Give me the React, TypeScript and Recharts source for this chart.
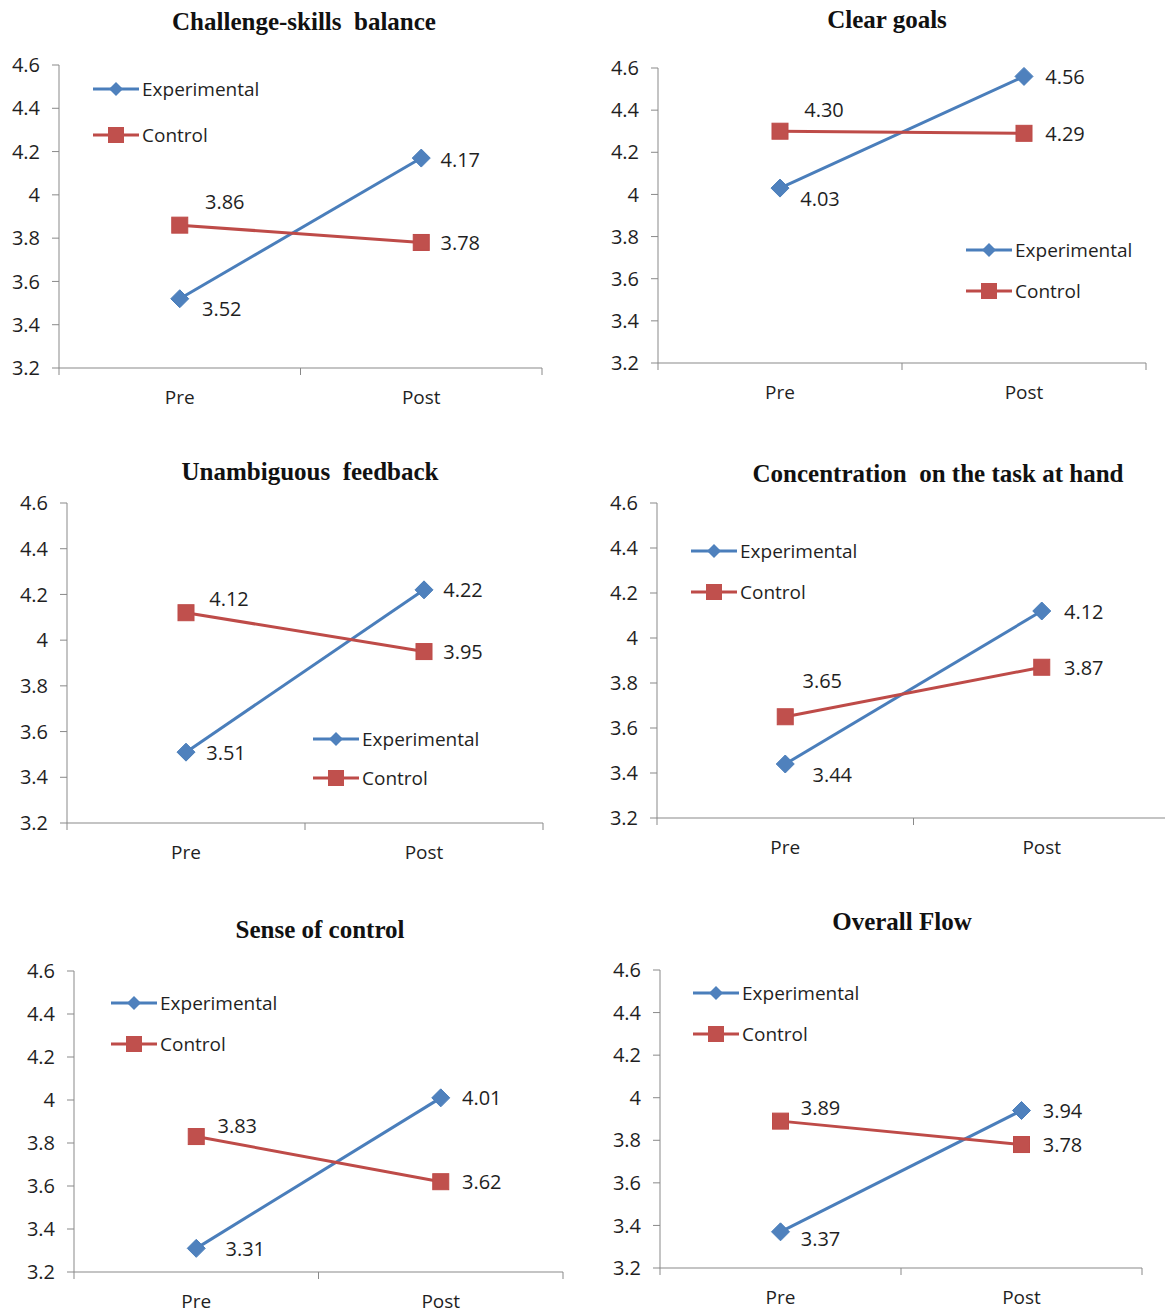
import React from "react";
import { LineChart, Line, XAxis, YAxis, Legend, LabelList } from "recharts";

// data
const CATEGORIES = ["Pre", "Post"];
const Y_TICKS = [3.2, 3.4, 3.6, 3.8, 4.0, 4.2, 4.4, 4.6];
const TITLES = [
  "Challenge-skills  balance",
  "Clear goals",
  "Unambiguous  feedback",
  "Concentration  on the task at hand",
  "Sense of control",
  "Overall Flow",
];
const EXPERIMENTAL = [
  [3.52, 4.17],
  [4.03, 4.56],
  [3.51, 4.22],
  [3.44, 4.12],
  [3.31, 4.01],
  [3.37, 3.94],
];
const CONTROL = [
  [3.86, 3.78],
  [4.3, 4.29],
  [4.12, 3.95],
  [3.65, 3.87],
  [3.83, 3.62],
  [3.89, 3.78],
];

const BLUE = "#4A7EBB";
const BLUE_FILL = "#4F81BD";
const RED = "#BE4B48";
const RED_FILL = "#C0504D";
const AXIS = "#898989";
const TEXT = "#1f1f1f";
const SANS = "'Open Sans', 'Noto Sans', sans-serif";

type Layout = {
  axisX: number;
  top: number;
  bottom: number;
  right: number;
  title: [number, number];
  legend: [number, number, number];
  expOff: [number, number][];
  ctrlOff: [number, number][];
};

// page placement of each panel (axis origin, plot extent, title, legend, label offsets)
const LAYOUT: Layout[] = [
  { axisX: 59, top: 65, bottom: 368, right: 542, title: [304, 22], legend: [93, 89, 135],
    expOff: [[42, 10], [39, 1]], ctrlOff: [[45, -24], [39, 0]] },
  { axisX: 658, top: 68, bottom: 363, right: 1146, title: [887, 20], legend: [966, 250, 291],
    expOff: [[40, 10], [41, 0]], ctrlOff: [[44, -22], [41, 0]] },
  { axisX: 67, top: 503, bottom: 823, right: 543, title: [310, 472], legend: [313, 739, 778],
    expOff: [[40, 0], [39, 0]], ctrlOff: [[43, -14], [39, 0]] },
  { axisX: 657, top: 503, bottom: 818, right: 1170, title: [938, 474], legend: [691, 551, 592],
    expOff: [[47, 10], [42, 0]], ctrlOff: [[37, -36], [42, 0]] },
  { axisX: 74, top: 971, bottom: 1272, right: 563, title: [320, 930], legend: [111, 1003, 1044],
    expOff: [[49, 0], [41, 0]], ctrlOff: [[41, -11], [41, 0]] },
  { axisX: 660, top: 970, bottom: 1268, right: 1142, title: [902, 922], legend: [693, 993, 1034],
    expOff: [[40, 7], [41, 0]], ctrlOff: [[40, -14], [41, 0]] },
];

const PAD_TOP = 20;

const Diamond = (props: any) => {
  const { cx, cy } = props;
  if (cx == null || cy == null) return null;
  const r = 9;
  return (
    <path
      d={`M${cx},${cy - r}L${cx + r},${cy}L${cx},${cy + r}L${cx - r},${cy}Z`}
      fill={BLUE_FILL}
      stroke={BLUE}
      strokeWidth={1}
    />
  );
};

const Square = (props: any) => {
  const { cx, cy } = props;
  if (cx == null || cy == null) return null;
  return <rect x={cx - 8} y={cy - 8} width={16} height={16} fill={RED_FILL} stroke={RED} strokeWidth={1} />;
};

const makeLabel = (offsets: [number, number][]) => (props: any) => {
  const { x, y, value, index } = props;
  const [dx, dy] = offsets[index] || [40, 0];
  return (
    <text
      x={x + dx}
      y={y + dy}
      textAnchor="middle"
      dominantBaseline="central"
      fontFamily={SANS}
      fontSize={20}
      fill={TEXT}
    >
      {Number(value).toFixed(2)}
    </text>
  );
};

const XTick = (props: any) => {
  const { x, y, payload } = props;
  const v = payload.value;
  if (v % 2 === 0) {
    return <line x1={x} x2={x} y1={y - 7} y2={y} stroke={AXIS} strokeWidth={1} />;
  }
  return (
    <text x={x} y={y + 22} textAnchor="middle" dominantBaseline="central" fontFamily={SANS} fontSize={19} fill={TEXT}>
      {CATEGORIES[(v - 1) / 2]}
    </text>
  );
};

const LegendRow = ({ kind, label }: { kind: "exp" | "ctrl"; label: string }) => (
  <div style={{ display: "flex", alignItems: "center", height: 24 }}>
    <svg width={46} height={24} style={{ display: "block" }}>
      <line x1={0} x2={46} y1={12} y2={12} stroke={kind === "exp" ? BLUE : RED} strokeWidth={3} />
      {kind === "exp" ? (
        <path d="M23,5L30,12L23,19L16,12Z" fill={BLUE_FILL} />
      ) : (
        <rect x={15} y={4} width={16} height={16} fill={RED_FILL} />
      )}
    </svg>
    <span style={{ fontFamily: SANS, fontSize: 19, color: TEXT, marginLeft: 3, lineHeight: "24px" }}>{label}</span>
  </div>
);

function Panel({ i }: { i: number }) {
  const L = LAYOUT[i];
  const chartLeft = L.axisX - 60;
  const chartTop = L.top - PAD_TOP;
  const width = 60 + (L.right - L.axisX) + 10;
  const height = PAD_TOP + (L.bottom - L.top) + 50;
  const data = CATEGORIES.map((name, k) => ({
    x: 2 * k + 1,
    name,
    exp: EXPERIMENTAL[i][k],
    ctrl: CONTROL[i][k],
  }));
  const [lx, ly1, ly2] = L.legend;

  return (
    <>
      <div
        style={{
          position: "absolute",
          left: L.title[0] - 300,
          top: L.title[1] - 16,
          width: 600,
          textAlign: "center",
          fontFamily: "'Liberation Serif', 'Times New Roman', serif",
          fontWeight: "bold",
          fontSize: 25,
          lineHeight: "32px",
          whiteSpace: "pre",
          color: "#111",
        }}
      >
        {TITLES[i]}
      </div>
      <div style={{ position: "absolute", left: chartLeft, top: chartTop }}>
        <LineChart width={width} height={height} data={data} margin={{ top: PAD_TOP, right: 10, left: 0, bottom: 0 }}>
          <XAxis
            dataKey="x"
            type="number"
            domain={[0, 4]}
            ticks={[0, 1, 2, 3, 4]}
            interval={0}
            height={50}
            tickSize={7}
            tickMargin={0}
            tickLine={false}
            axisLine={{ stroke: AXIS, strokeWidth: 1 }}
            tick={<XTick />}
          />
          <YAxis
            type="number"
            domain={[3.2, 4.6]}
            ticks={Y_TICKS}
            interval={0}
            width={60}
            tickSize={7}
            tickMargin={12}
            axisLine={{ stroke: AXIS, strokeWidth: 1 }}
            tickLine={{ stroke: AXIS, strokeWidth: 1 }}
            tick={{ fontFamily: SANS, fontSize: 20, fill: TEXT }}
            tickFormatter={(v: number) => String(Number(v.toFixed(1)))}
          />
          <Legend
            layout="vertical"
            align="center"
            verticalAlign="middle"
            wrapperStyle={{ left: lx - chartLeft, top: ly1 - 12 - chartTop, width: 220 }}
            content={() => (
              <div>
                <LegendRow kind="exp" label="Experimental" />
                <div style={{ height: ly2 - ly1 - 24 }} />
                <LegendRow kind="ctrl" label="Control" />
              </div>
            )}
          />
          <Line
            dataKey="exp"
            name="Experimental"
            stroke={BLUE}
            strokeWidth={3}
            dot={<Diamond />}
            activeDot={false}
            isAnimationActive={false}
          >
            <LabelList dataKey="exp" content={makeLabel(L.expOff)} />
          </Line>
          <Line
            dataKey="ctrl"
            name="Control"
            stroke={RED}
            strokeWidth={3}
            dot={<Square />}
            activeDot={false}
            isAnimationActive={false}
          >
            <LabelList dataKey="ctrl" content={makeLabel(L.ctrlOff)} />
          </Line>
        </LineChart>
      </div>
    </>
  );
}

export default function App() {
  return (
    <div
      style={{
        position: "absolute",
        left: 0,
        top: 0,
        width: 1165,
        height: 1313,
        overflow: "hidden",
        background: "#fff",
      }}
    >
      {LAYOUT.map((_, i) => (
        <Panel key={i} i={i} />
      ))}
    </div>
  );
}
